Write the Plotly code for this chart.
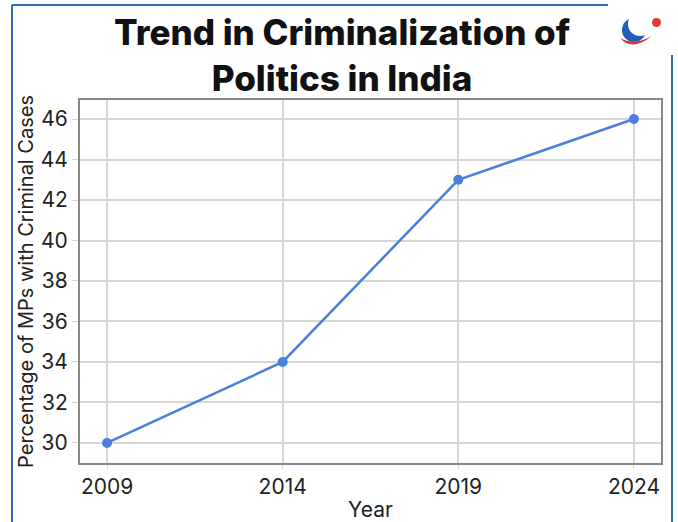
import plotly.graph_objects as go

years = [2009, 2014, 2019, 2024]
pct = [30, 34, 43, 46]
y_ticks = [30, 32, 34, 36, 38, 40, 42, 44, 46]

W, H = 678, 522
L, R, T, B = 80, 17, 100, 59
pw, ph = W - L - R, H - T - B

def px(x):
    return (x - L) / pw

def py(y):
    return (H - B - y) / ph

fig = go.Figure()
fig.add_trace(go.Scatter(
    x=years, y=pct, mode="lines+markers",
    line=dict(color="#4a7fdc", width=2.5),
    marker=dict(color="#4a7fdc", size=10),
    cliponaxis=False, showlegend=False,
))

frame_col = "#2f6db5"
shapes = [
    dict(type="line", xref="paper", yref="paper", x0=px(12), x1=px(12), y0=py(5), y1=py(522),
         line=dict(color=frame_col, width=2)),
    dict(type="line", xref="paper", yref="paper", x0=px(12), x1=px(608), y0=py(5), y1=py(5),
         line=dict(color=frame_col, width=2)),
    dict(type="line", xref="paper", yref="paper", x0=px(672), x1=px(672), y0=py(55), y1=py(522),
         line=dict(color=frame_col, width=2)),
    # logo
    dict(type="circle", xref="paper", yref="paper", x0=px(622), x1=px(646), y0=py(18), y1=py(42),
         fillcolor="#1f5fb8", line=dict(width=0)),
    dict(type="circle", xref="paper", yref="paper", x0=px(628), x1=px(652), y0=py(12), y1=py(36),
         fillcolor="white", line=dict(width=0)),
    dict(type="path", xref="paper", yref="paper",
         path=f"M {px(620)},{py(38)} Q {px(632)},{py(52)} {px(652)},{py(36)} Q {px(634)},{py(46)} {px(620)},{py(38)} Z",
         fillcolor="#e03131", line=dict(width=0)),
    dict(type="circle", xref="paper", yref="paper", x0=px(652), x1=px(661), y0=py(18), y1=py(27),
         fillcolor="#e53935", line=dict(width=0)),
]

fig.add_annotation(
    text="Trend in Criminalization of<br>Politics in India",
    xref="paper", yref="paper", x=px(342), y=py(55), xanchor="center", yanchor="middle",
    showarrow=False, align="center",
    font=dict(size=35, color="#111", family="Inter, sans-serif", weight=800),
)

fig.update_layout(
    width=W, height=H,
    margin=dict(l=L, r=R, t=T, b=B),
    paper_bgcolor="white", plot_bgcolor="white",
    font=dict(family="Inter, Roboto, sans-serif", color="#222"),
    xaxis=dict(range=[2008.23, 2024.77], tickvals=years, ticktext=[str(v) for v in years],
               showgrid=True, gridcolor="#d6d6d6", gridwidth=1.5,
               showline=True, linecolor="#888", linewidth=2, mirror=True,
               ticks="outside", ticklen=4, tickcolor="#d6d6d6",
               tickfont=dict(size=21, color="#222"),
               title=dict(text="Year", font=dict(size=21, color="#222"), standoff=5),
               automargin=False, zeroline=False),
    yaxis=dict(range=[29.01, 46.94], tickvals=y_ticks,
               showgrid=True, gridcolor="#d6d6d6", gridwidth=1.5,
               showline=True, linecolor="#888", linewidth=2, mirror=True,
               ticks="outside", ticklen=6, tickcolor="#d6d6d6",
               tickfont=dict(size=21, color="#222"),
               title=dict(text="Percentage of MPs with Criminal Cases", font=dict(size=20, color="#222"), standoff=2),
               automargin=False, zeroline=False),
    shapes=shapes,
)

fig.write_html("out.html")
